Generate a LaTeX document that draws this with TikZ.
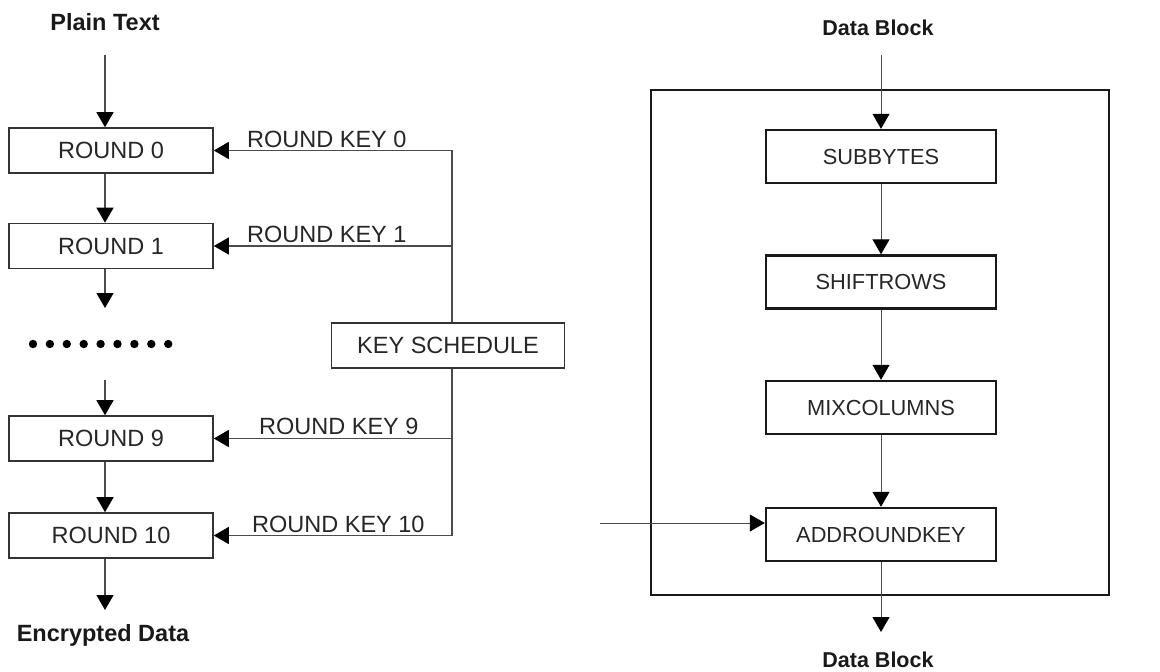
\documentclass[tikz,border=0pt]{standalone}
\usepackage{fontspec}
\setmainfont{Liberation Sans}
\usetikzlibrary{arrows.meta}
\begin{document}
\begin{tikzpicture}[x=1pt,y=-1pt,
  stage/.style={draw=black!80, line width=1.6pt, minimum width=204pt, minimum height=45pt,
    inner sep=0pt, text=black!85, font=\fontsize{23.5}{28}\selectfont},
  step box/.style={draw=black!90, line width=2.4pt, minimum width=230pt, minimum height=53pt,
    inner sep=0pt, text=black!85, font=\fontsize{21.8}{26}\selectfont},
  title/.style={inner sep=0pt, text=black!90, font=\fontsize{23.5}{28}\selectfont\bfseries},
  keylabel/.style={anchor=base west, inner sep=0pt, text=black!85, font=\fontsize{23.5}{28}\selectfont},
  flow/.style={draw=black!70, line width=1.3pt, -{Triangle[width=17pt,length=15pt,color=black]}},
  thinflow/.style={draw=black!70, line width=1pt, -{Triangle[width=17pt,length=15pt,color=black]}}
]
\useasboundingbox (0,0) rectangle (1160,672);

% ---------- cipher rounds ----------
\node[title] (pt) at (105,22) {Plain Text};
\node[stage] (r0) at (111,150.5) {ROUND 0};
\node[stage] (r1) at (111,246) {ROUND 1};
\node[stage] (r9) at (111,438.5) {ROUND 9};
\node[stage] (r10) at (111,535.5) {ROUND 10};
\node[title] (ed) at (103,635) {Encrypted Data};

\coordinate (in0) at (105,55);
\coordinate (out1) at (105,308);
\coordinate (in9) at (105,380);
\coordinate (out10) at (105,610);

\draw[flow] (in0) -- (in0 |- r0.north);
\draw[flow] ([xshift=-6pt]r0.south) -- ([xshift=-6pt]r1.north);
\draw[flow] ([xshift=-6pt]r1.south) -- (out1);
\draw[flow] (in9) -- (in9 |- r9.north);
\draw[flow] ([xshift=-6pt]r9.south) -- ([xshift=-6pt]r10.north);
\draw[flow] ([xshift=-6pt]r10.south) -- (out10);

% omitted rounds
\foreach \i in {0,...,8}
  \fill[black] (33+\i*16.9,344) circle (4.2pt);

% ---------- key schedule ----------
\node[draw=black!80, line width=1.3pt, minimum width=233pt, minimum height=45pt, inner sep=0pt,
  text=black!85, font=\fontsize{23.5}{28}\selectfont] (ks) at (448,345.5) {KEY SCHEDULE};
\coordinate (kx) at (452,0);

\draw[flow] (kx |- ks.north) |- (r0.east);
\draw[flow] (kx |- r1.east) -- (r1.east);
\draw[flow] (kx |- r9.east) -- (r9.east);
\draw[flow] (kx |- ks.south) |- (r10.east);

\node[keylabel] (k0) at (247,147) {ROUND KEY 0};
\node[keylabel] (k1) at (247,242) {ROUND KEY 1};
\node[keylabel] (k9) at (259,434) {ROUND KEY 9};
\node[keylabel] (k10) at (252,532) {ROUND KEY 10};

% ---------- single round ----------
\node[draw=black!90, line width=2.4pt, minimum width=458pt, minimum height=505pt, inner sep=0pt]
  (frame) at (880,342.5) {};
\node[title, font=\fontsize{21.5}{26}\selectfont\bfseries] (dbin) at (878,28) {Data Block};
\node[step box] (sb) at (881,156.5) {SUBBYTES};
\node[step box] (sr) at (881,282) {SHIFTROWS};
\node[step box] (mc) at (881,407.5) {MIXCOLUMNS};
\node[step box] (ark) at (881,534.5) {ADDROUNDKEY};
\node[title, font=\fontsize{21.5}{26}\selectfont\bfseries] (dbout) at (878,660) {Data Block};

\coordinate (din) at (881,55);
\coordinate (dout) at (881,632);
\coordinate (kin) at (600,523);

\draw[thinflow] (din) -- (sb.north);
\draw[thinflow] (sb.south) -- (sr.north);
\draw[thinflow] (sr.south) -- (mc.north);
\draw[thinflow] (mc.south) -- (ark.north);
\draw[thinflow] (ark.south) -- (dout);
\draw[thinflow] (kin) -- (kin -| ark.west);
\end{tikzpicture}
\end{document}
